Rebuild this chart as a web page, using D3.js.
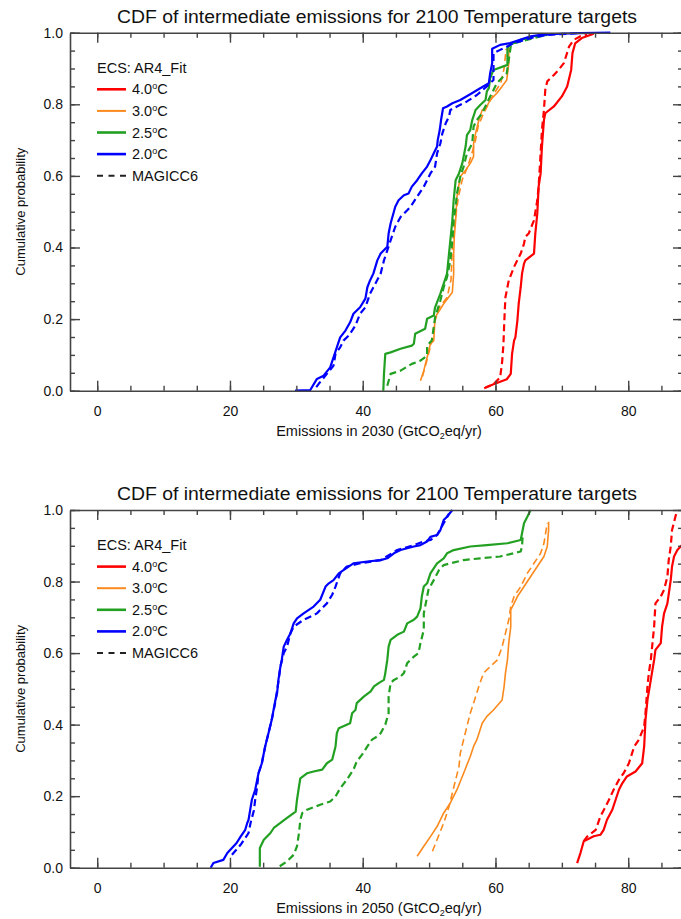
<!DOCTYPE html>
<html><head><meta charset="utf-8">
<script src="https://cdn.jsdelivr.net/npm/d3@7"></script>
<style>
body{margin:0;background:#fff}
svg{display:block}
text{font-family:"Liberation Sans",Arial,Helvetica,sans-serif;fill:#111}
</style>
</head><body>
<svg id="c" width="681" height="919"></svg>
<script>
// ---------- labels ----------
const chartTitle = "CDF of intermediate emissions for 2100 Temperature targets";
const years = ["2030", "2050"];
const targets = ["4.0", "3.0", "2.5", "2.0"];
const colors = ["#ff0000", "#fb8a1e", "#22a022", "#0000ff"];
const widths = [2.2, 1.6, 2.2, 2.2];
const legendHeader = "ECS: AR4_Fit";
const legendMagicc = "MAGICC6";
const xTicks = [0, 20, 40, 60, 80];
const yTicks = [0, 0.2, 0.4, 0.6, 0.8, 1.0];
const yLabel = "Cumulative probability";

// ---------- 2030 data: [emissions, cumulative probability] ----------
const e2030_40_fit = [[58.5,0.009],[59.7,0.018],[61.7,0.032],[62.3,0.047],[62.5,0.103],[62.8,0.14],[63.0,0.149],[63.3,0.196],[63.5,0.243],[63.8,0.289],[64.0,0.327],[64.3,0.355],[64.5,0.364],[65.8,0.383],[66.0,0.439],[66.3,0.495],[66.5,0.570],[66.8,0.607],[67.0,0.682],[67.3,0.756],[67.5,0.775],[68.8,0.794],[70.0,0.822],[70.8,0.850],[71.4,0.896],[71.6,0.943],[72.0,0.970],[73.0,0.985],[74.8,0.997]];
const e2030_40_mag = [[58.3,0.007],[59.7,0.018],[60.7,0.037],[61.0,0.08],[61.2,0.13],[61.3,0.18],[61.4,0.224],[61.5,0.261],[62.0,0.308],[62.8,0.346],[63.8,0.383],[64.3,0.411],[64.5,0.430],[65.0,0.439],[65.8,0.476],[66.3,0.532],[66.5,0.570],[66.8,0.663],[67.0,0.728],[67.3,0.784],[67.5,0.840],[67.8,0.864],[68.8,0.882],[69.5,0.896],[70.3,0.915],[71.1,0.962],[71.8,0.980],[72.8,0.990],[73.8,0.994]];
const e2030_30_fit = [[48.7,0.028],[49.2,0.056],[49.7,0.093],[50.2,0.131],[50.7,0.140],[50.9,0.205],[52.2,0.243],[53.5,0.275],[53.7,0.327],[53.7,0.383],[53.8,0.430],[54.0,0.476],[54.2,0.542],[54.7,0.598],[55.5,0.616],[56.2,0.635],[56.7,0.654],[56.7,0.691],[57.0,0.719],[57.5,0.756],[58.0,0.784],[58.7,0.794],[59.2,0.812],[60.2,0.831],[61.0,0.850],[61.7,0.868],[62.0,0.915],[62.0,0.957]];
const e2030_30_mag = [[49.0,0.04],[49.6,0.08],[50.3,0.13],[50.8,0.19],[51.6,0.235],[52.7,0.26],[53.3,0.31],[53.5,0.40],[53.9,0.47],[54.4,0.54],[55.0,0.59],[55.8,0.625],[56.4,0.66],[57.0,0.70],[57.4,0.74],[58.1,0.77],[58.9,0.80],[59.8,0.83],[60.8,0.86],[61.3,0.90],[61.6,0.955]];
const e2030_25_fit = [[43.1,0.0],[43.2,0.047],[43.4,0.103],[44.2,0.107],[45.7,0.117],[47.4,0.126],[47.7,0.131],[47.9,0.159],[49.4,0.173],[49.7,0.201],[50.7,0.210],[50.9,0.233],[51.7,0.271],[52.2,0.299],[52.7,0.327],[53.0,0.383],[53.2,0.420],[53.5,0.476],[53.7,0.532],[54.0,0.588],[54.5,0.607],[55.0,0.635],[55.5,0.682],[55.7,0.714],[56.2,0.728],[56.5,0.756],[57.0,0.784],[57.7,0.798],[58.5,0.812],[58.7,0.836],[59.0,0.845],[59.2,0.873],[59.7,0.896],[61.5,0.908],[61.8,0.91],[61.8,0.957],[62.2,0.966],[63.8,0.98],[65.8,0.990],[67.8,0.994]];
const e2030_25_mag = [[43.7,0.014],[44.2,0.047],[45.7,0.056],[47.4,0.075],[48.7,0.084],[49.7,0.098],[49.7,0.126],[50.4,0.140],[50.7,0.177],[50.9,0.205],[51.7,0.252],[52.2,0.289],[52.7,0.317],[53.2,0.364],[53.5,0.420],[53.7,0.476],[54.0,0.514],[54.2,0.551],[54.7,0.598],[55.2,0.626],[55.7,0.663],[56.5,0.691],[56.7,0.738],[57.2,0.756],[58.0,0.775],[58.7,0.803],[59.7,0.840],[60.2,0.859],[61.7,0.887],[62.3,0.962],[62.8,0.971],[65.8,0.985],[67.8,0.994]];
const e2030_20_fit = [[29.8,0.0],[32.1,0.002],[33.1,0.033],[34.1,0.042],[35.1,0.065],[35.6,0.093],[36.1,0.121],[36.6,0.149],[37.4,0.168],[38.1,0.191],[38.6,0.215],[39.6,0.233],[40.4,0.257],[40.7,0.289],[41.1,0.308],[41.6,0.327],[42.2,0.364],[42.7,0.383],[43.7,0.402],[43.9,0.439],[44.2,0.467],[44.9,0.514],[45.4,0.532],[46.2,0.546],[46.9,0.551],[47.4,0.570],[48.2,0.588],[48.9,0.607],[49.7,0.626],[50.2,0.644],[50.7,0.663],[51.2,0.682],[51.3,0.700],[51.6,0.728],[51.8,0.756],[52.1,0.789],[52.7,0.794],[53.5,0.803],[54.7,0.812],[56.0,0.826],[57.7,0.845],[59.0,0.859],[59.2,0.887],[59.5,0.915],[59.5,0.955],[60.7,0.966],[62.2,0.971],[65.3,0.990],[66.8,0.994],[69.8,0.997],[72.8,0.999],[77.3,1.0]];
const e2030_20_mag = [[33.0,0.01],[33.4,0.02],[34.6,0.047],[35.6,0.07],[35.9,0.103],[36.6,0.121],[37.1,0.140],[37.9,0.154],[38.9,0.182],[39.6,0.215],[40.4,0.233],[41.1,0.271],[41.9,0.299],[42.7,0.327],[43.2,0.364],[43.7,0.392],[44.2,0.420],[44.9,0.458],[45.7,0.485],[46.7,0.504],[47.2,0.514],[48.2,0.542],[49.2,0.570],[50.2,0.607],[50.9,0.626],[51.2,0.663],[51.7,0.691],[52.0,0.719],[52.5,0.747],[53.0,0.766],[53.2,0.784],[54.2,0.794],[55.7,0.808],[57.2,0.826],[58.7,0.850],[59.7,0.868],[59.7,0.943],[60.7,0.952],[62.8,0.971],[65.3,0.985],[67.8,0.994],[72.8,0.999]];

// ---------- 2050 data ----------
const e2050_40_fit = [[72.3,0.013],[72.8,0.041],[73.3,0.074],[74.8,0.088],[75.8,0.092],[76.3,0.106],[76.8,0.134],[77.6,0.162],[78.1,0.190],[78.6,0.218],[79.1,0.236],[79.8,0.255],[81.1,0.269],[82.1,0.292],[82.4,0.339],[82.6,0.414],[82.9,0.469],[83.4,0.525],[83.9,0.581],[84.1,0.609],[84.9,0.628],[85.1,0.674],[85.4,0.711],[85.9,0.739],[86.4,0.804],[86.6,0.842],[86.9,0.870],[87.4,0.888],[87.9,0.898],[89.5,0.93]];
const e2050_40_mag = [[73.3,0.074],[73.8,0.087],[75.1,0.106],[75.8,0.143],[76.6,0.171],[77.1,0.190],[77.8,0.218],[78.6,0.246],[79.3,0.264],[80.1,0.292],[80.9,0.339],[81.6,0.358],[82.4,0.395],[82.6,0.432],[82.9,0.507],[83.1,0.544],[83.4,0.581],[83.6,0.618],[83.9,0.674],[84.1,0.739],[84.9,0.758],[85.4,0.777],[85.9,0.814],[86.1,0.860],[86.4,0.898],[86.6,0.944],[87.1,0.981],[87.4,1.0]];
const e2050_30_fit = [[48.2,0.032],[49.2,0.060],[50.2,0.087],[51.2,0.115],[52.2,0.153],[53.2,0.181],[54.2,0.218],[55.2,0.264],[56.2,0.311],[56.7,0.339],[57.2,0.358],[58.0,0.404],[58.7,0.423],[59.7,0.441],[61.0,0.469],[61.3,0.507],[61.5,0.544],[61.8,0.581],[62.0,0.628],[62.3,0.674],[62.3,0.721],[62.8,0.739],[63.3,0.758],[64.3,0.786],[65.3,0.814],[66.3,0.842],[67.3,0.870],[67.8,0.898],[68.0,0.944],[68.0,0.967]];
const e2050_30_mag = [[50.5,0.046],[51.0,0.069],[51.7,0.102],[52.2,0.125],[52.7,0.153],[53.0,0.171],[53.5,0.209],[54.0,0.246],[54.5,0.283],[54.7,0.320],[55.2,0.358],[55.7,0.395],[56.2,0.432],[56.7,0.460],[57.5,0.507],[58.2,0.544],[59.2,0.562],[60.3,0.581],[61.0,0.618],[61.5,0.655],[62.0,0.693],[62.3,0.730],[62.8,0.758],[63.8,0.786],[64.8,0.823],[65.8,0.851],[66.8,0.879],[67.3,0.907],[67.8,0.963]];
const e2050_25_fit = [[24.5,0.003],[24.5,0.055],[25.1,0.078],[26.1,0.097],[26.6,0.111],[27.6,0.125],[28.6,0.139],[29.9,0.157],[30.1,0.190],[30.4,0.227],[30.6,0.250],[31.6,0.264],[32.6,0.269],[33.9,0.274],[34.6,0.292],[35.4,0.302],[35.9,0.339],[36.1,0.376],[36.4,0.390],[38.1,0.404],[38.4,0.432],[38.9,0.441],[39.1,0.460],[40.2,0.479],[41.2,0.493],[41.7,0.507],[42.4,0.516],[43.2,0.525],[43.4,0.544],[43.7,0.581],[43.9,0.618],[44.2,0.637],[45.2,0.651],[46.2,0.660],[46.7,0.683],[47.7,0.693],[48.2,0.702],[48.7,0.725],[48.9,0.758],[49.2,0.786],[49.7,0.795],[50.2,0.823],[50.7,0.837],[51.2,0.851],[52.2,0.865],[52.7,0.879],[53.7,0.888],[56.2,0.898],[58.7,0.902],[61.8,0.907],[63.8,0.916],[64.0,0.935],[64.3,0.963],[64.8,0.981],[65.3,1.0]];
const e2050_25_mag = [[27.5,0.004],[28.6,0.018],[29.6,0.036],[30.1,0.06],[30.4,0.097],[30.6,0.134],[30.9,0.153],[31.6,0.162],[33.6,0.176],[35.1,0.185],[35.9,0.199],[36.6,0.222],[37.6,0.246],[38.6,0.274],[39.1,0.297],[39.9,0.316],[40.7,0.339],[41.4,0.358],[42.2,0.367],[42.7,0.376],[43.4,0.400],[43.9,0.432],[43.9,0.479],[44.2,0.516],[44.7,0.525],[45.7,0.534],[46.2,0.544],[46.7,0.572],[47.7,0.590],[48.4,0.600],[48.7,0.628],[49.2,0.665],[49.2,0.711],[49.5,0.739],[49.9,0.777],[50.7,0.804],[51.5,0.832],[52.2,0.846],[53.2,0.851],[55.2,0.860],[57.7,0.865],[60.7,0.870],[63.8,0.884],[64.0,0.898],[64.1,0.93]];
const e2050_20_fit = [[17.1,0.0],[17.5,0.013],[19.0,0.022],[19.6,0.041],[20.3,0.055],[21.0,0.069],[21.6,0.087],[22.3,0.106],[22.6,0.125],[22.8,0.134],[23.3,0.190],[23.8,0.218],[24.3,0.264],[24.8,0.292],[25.3,0.339],[25.8,0.376],[26.3,0.414],[26.8,0.465],[27.1,0.488],[27.3,0.525],[27.6,0.562],[27.8,0.581],[28.1,0.618],[28.6,0.637],[29.1,0.655],[29.6,0.683],[30.1,0.697],[31.1,0.711],[32.6,0.730],[33.6,0.749],[34.4,0.786],[34.9,0.795],[35.6,0.804],[36.4,0.823],[37.1,0.832],[38.6,0.851],[40.7,0.856],[42.7,0.860],[43.7,0.865],[44.7,0.879],[45.7,0.888],[47.7,0.898],[48.7,0.902],[49.7,0.912],[50.2,0.925],[51.2,0.930],[51.7,0.944],[52.2,0.972],[52.7,0.981],[53.5,1.0]];
const e2050_20_mag = [[20.3,0.036],[21.6,0.064],[22.3,0.083],[22.8,0.097],[23.1,0.125],[23.6,0.16],[23.8,0.190],[24.1,0.227],[24.3,0.264],[24.8,0.292],[25.3,0.339],[25.8,0.376],[26.3,0.414],[26.8,0.46],[27.3,0.52],[27.6,0.562],[28.1,0.6],[28.6,0.618],[29.1,0.655],[29.6,0.674],[31.1,0.693],[33.1,0.711],[34.6,0.739],[35.4,0.763],[35.9,0.786],[36.6,0.823],[37.6,0.842],[39.6,0.851],[42.7,0.860],[45.2,0.888],[47.7,0.902],[49.2,0.912],[50.2,0.916],[51.2,0.93],[52.2,0.963],[53.0,0.99]];

const fit2030 = [e2030_40_fit, e2030_30_fit, e2030_25_fit, e2030_20_fit];
const mag2030 = [e2030_40_mag, e2030_30_mag, e2030_25_mag, e2030_20_mag];
const fit2050 = [e2050_40_fit, e2050_30_fit, e2050_25_fit, e2050_20_fit];
const mag2050 = [e2050_40_mag, e2050_30_mag, e2050_25_mag, e2050_20_mag];

// ---------- drawing ----------
const svg = d3.select("#c");
svg.append("rect").attr("width", 681).attr("height", 919).attr("fill", "#fff");
const axisColor = "#444";

function drawPanel(idx, top, bottom, year, fits, mags) {
  const left = 70, right = 683;
  const x = d3.scaleLinear().domain([-4.1, 88.25]).range([left, right]);
  const y = d3.scaleLinear().domain([0, 1]).range([bottom, top]);
  const g = svg.append("g");

  const clipId = "clip" + idx;
  g.append("clipPath").attr("id", clipId).append("rect")
    .attr("x", left).attr("y", top - 2).attr("width", right - left).attr("height", bottom - top + 4);

  const line = d3.line().x(d => x(d[0])).y(d => y(d[1]));
  const lg = g.append("g").attr("clip-path", `url(#${clipId})`);
  targets.forEach((t, i) => {
    lg.append("path").datum(mags[i]).attr("d", line).attr("fill", "none")
      .attr("stroke", colors[i]).attr("stroke-width", widths[i])
      .attr("stroke-dasharray", "7,4").attr("stroke-linejoin", "round");
    lg.append("path").datum(fits[i]).attr("d", line).attr("fill", "none")
      .attr("stroke", colors[i]).attr("stroke-width", widths[i])
      .attr("stroke-linejoin", "round");
  });

  const xMinor = d3.range(0, 90, 5);
  const yMinor = d3.range(0, 1.0001, 0.05);
  const style = sel => {
    sel.selectAll("path.domain").attr("stroke", axisColor).attr("stroke-width", 1.6);
    sel.selectAll(".tick line").attr("stroke", axisColor).attr("stroke-width", 1.4);
    sel.selectAll(".tick text").attr("fill", "#111")
      .style("font-family", '"Liberation Sans",Arial,Helvetica,sans-serif').style("font-size", "14px");
  };
  // bottom
  g.append("g").attr("transform", `translate(0,${bottom})`)
    .call(d3.axisBottom(x).tickValues(xMinor).tickSize(-5).tickSizeOuter(0).tickFormat(""))
    .call(style).call(s => s.select(".domain").remove());
  g.append("g").attr("transform", `translate(0,${bottom})`)
    .call(d3.axisBottom(x).tickValues(xTicks).tickSize(-10).tickSizeOuter(0).tickPadding(15).tickFormat(d3.format("d")))
    .call(style);
  // top
  g.append("g").attr("transform", `translate(0,${top})`)
    .call(d3.axisTop(x).tickValues(xMinor).tickSize(-5).tickSizeOuter(0).tickFormat(""))
    .call(style).call(s => s.select(".domain").remove());
  g.append("g").attr("transform", `translate(0,${top})`)
    .call(d3.axisTop(x).tickValues(xTicks).tickSize(-10).tickSizeOuter(0).tickFormat(""))
    .call(style);
  // left
  g.append("g").attr("transform", `translate(${left},0)`)
    .call(d3.axisLeft(y).tickValues(yMinor).tickSize(-5).tickSizeOuter(0).tickFormat(""))
    .call(style).call(s => s.select(".domain").remove());
  g.append("g").attr("transform", `translate(${left},0)`)
    .call(d3.axisLeft(y).tickValues(yTicks).tickSize(-10).tickSizeOuter(0).tickPadding(7).tickFormat(d3.format(".1f")))
    .call(style);
  // right
  g.append("g").attr("transform", `translate(${right},0)`)
    .call(d3.axisRight(y).tickValues(yMinor).tickSize(-5).tickSizeOuter(0).tickFormat(""))
    .call(style).call(s => s.select(".domain").remove());
  g.append("g").attr("transform", `translate(${right},0)`)
    .call(d3.axisRight(y).tickValues(yTicks).tickSize(-10).tickSizeOuter(0).tickFormat(""))
    .call(style);

  // title
  g.append("text").attr("x", 377).attr("y", top - 10).attr("text-anchor", "middle")
    .attr("textLength", 520).attr("lengthAdjust", "spacingAndGlyphs")
    .style("font-size", "17.5px").text(chartTitle);

  // x label
  const xl = g.append("text").attr("x", 379).attr("y", bottom + 45).attr("text-anchor", "middle")
    .style("font-size", "14.5px");
  xl.append("tspan").text(`Emissions in ${year} (GtCO`);
  xl.append("tspan").attr("dy", 3).style("font-size", "9px").text("2");
  xl.append("tspan").attr("dy", -3).text("eq/yr)");

  // y label
  g.append("text").attr("transform", `translate(25,${(top + bottom) / 2}) rotate(-90)`)
    .attr("text-anchor", "middle").style("font-size", "13px").text(yLabel);

  // legend
  const lx = 97, ly = top + 35, step = 21.6;
  g.append("text").attr("x", lx).attr("y", ly + 5).style("font-size", "14.5px").text(legendHeader);
  targets.forEach((t, i) => {
    const yy = ly + step * (i + 1);
    g.append("line").attr("x1", lx).attr("x2", lx + 29).attr("y1", yy).attr("y2", yy)
      .attr("stroke", colors[i]).attr("stroke-width", widths[i] + 0.4);
    const tx = g.append("text").attr("x", lx + 35).attr("y", yy + 5).style("font-size", "14.5px");
    tx.append("tspan").text(t);
    tx.append("tspan").attr("dy", -5).style("font-size", "9px").text("o");
    tx.append("tspan").attr("dy", 5).text("C");
  });
  const ym = ly + step * 5;
  g.append("line").attr("x1", lx).attr("x2", lx + 29).attr("y1", ym).attr("y2", ym)
    .attr("stroke", "#222").attr("stroke-width", 2).attr("stroke-dasharray", "6,5.5");
  g.append("text").attr("x", lx + 35).attr("y", ym + 5).style("font-size", "14.5px").text(legendMagicc);
}

drawPanel(0, 32.7, 390.7, years[0], fit2030, mag2030);
drawPanel(1, 510, 867.7, years[1], fit2050, mag2050);
</script>
</body></html>
